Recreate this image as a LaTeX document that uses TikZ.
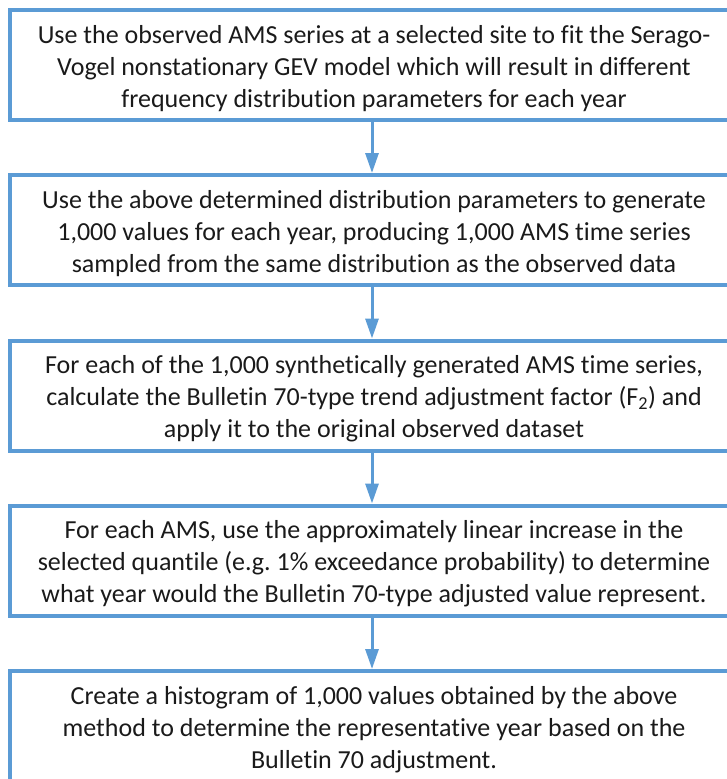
\documentclass[tikz,border=0pt]{standalone}
\usepackage{fontspec}
\setmainfont{Carlito}[Ligatures={NoCommon}]
\usetikzlibrary{arrows.meta}
\definecolor{boxblue}{HTML}{5B9BD5}
\definecolor{txt}{HTML}{1A1A1A}
\tikzset{
  flowbox/.style={draw=boxblue, line width=4pt, rectangle, minimum width=728pt, minimum height=110pt, inner sep=0pt},
  flowtext/.style={anchor=north, inner sep=0pt, align=center, text=txt, font=\fontsize{26}{31.8}\selectfont\frenchspacing},
  flowarrow/.style={draw=boxblue, line width=3pt, -{Triangle[width=13pt,length=20pt]}, shorten <=0pt}
}
\begin{document}
\begin{tikzpicture}
\useasboundingbox (0,0) rectangle (727pt,-779pt);
\node[flowbox] (b1) at (374pt,-65pt) {};
\node[flowbox] (b2) at (374pt,-230pt) {};
\node[flowbox] (b3) at (374pt,-395.5pt) {};
\node[flowbox] (b4) at (374pt,-560.5pt) {};
\node[flowbox] (b5) at (374pt,-726pt) {};
\node[flowtext] (t1) at ([yshift=-13pt]b1.north) {\strut Use the observed AMS series at a selected site to fit the Serago-\\Vogel nonstationary GEV model which will result in different\\frequency distribution parameters for each year};
\node[flowtext] (t2) at ([yshift=-13pt]b2.north) {\strut Use the above determined distribution parameters to generate\\1,000 values for each year, producing 1,000 AMS time series\\sampled from the same distribution as the observed data};
\node[flowtext] (t3) at ([yshift=-13pt]b3.north) {\strut For each of the 1,000 synthetically generated AMS time series,\\calculate the Bulletin 70-type trend adjustment factor (F\textsubscript{2}) and\\apply it to the original observed dataset};
\node[flowtext] (t4) at ([yshift=-13pt]b4.north) {\strut For each AMS, use the approximately linear increase in the\\selected quantile (e.g. 1\% exceedance probability) to determine\\what year would the Bulletin 70-type adjusted value represent.};
\node[flowtext] (t5) at ([yshift=-13pt]b5.north) {\strut Create a histogram of 1,000 values obtained by the above\\method to determine the representative year based on the\\Bulletin 70 adjustment.};
\draw[flowarrow] ([xshift=-2pt]b1.south) -- ([xshift=-2pt]b2.north);
\draw[flowarrow] ([xshift=-2pt]b2.south) -- ([xshift=-2pt]b3.north);
\draw[flowarrow] ([xshift=-2pt]b3.south) -- ([xshift=-2pt]b4.north);
\draw[flowarrow] ([xshift=-2pt]b4.south) -- ([xshift=-2pt]b5.north);
\end{tikzpicture}
\end{document}
